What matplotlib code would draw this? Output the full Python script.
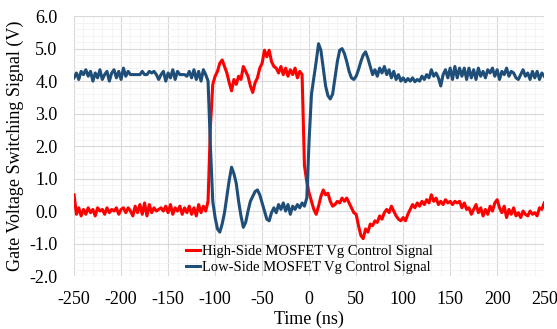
import numpy as np
import matplotlib
matplotlib.use("Agg")
import matplotlib.pyplot as plt
from matplotlib.ticker import MultipleLocator, FormatStrFormatter

plt.rcParams['font.family'] = ['Liberation Serif', 'DejaVu Serif']
plt.rcParams['axes.unicode_minus'] = False

# sample grid: -250 ns .. 250 ns, every 2.5 ns
time_ns = np.arange(-250, 250.1, 2.5)

# High-Side MOSFET gate signal (V)
high_side = [
    0.50, -0.10, 0.10, -0.15, 0.05, -0.10, 0.10, -0.05, 0.05, -0.15,
    0.10, 0.00, 0.05, -0.10, 0.10, -0.05, 0.05, 0.00, 0.10, -0.10,
    0.05, 0.10, -0.05, 0.10, 0.00, -0.15, 0.15, -0.05, 0.20, -0.10,
    0.25, -0.15, 0.20, -0.05, 0.10, 0.00, 0.05, 0.10, 0.00, 0.15,
    -0.05, 0.20, -0.10, 0.10, 0.00, 0.15, -0.10, 0.10, -0.05, 0.15,
    -0.10, 0.10, -0.15, 0.20, -0.05, 0.15, 0.00, 0.30, 2.60, 3.90,
    4.15, 4.30, 4.55, 4.65, 4.45, 4.25, 3.95, 3.70, 4.05, 3.90,
    4.15, 4.05, 4.45, 4.30, 4.15, 3.85, 3.65, 3.95, 4.10, 4.40,
    4.55, 4.95, 4.75, 4.95, 4.60, 4.45, 4.40, 4.25, 4.45, 4.20,
    4.40, 4.15, 4.35, 4.20, 4.40, 4.10, 4.30, 4.20, 1.40, 0.90,
    0.55, 0.30, 0.05, -0.10, 0.15, 0.45, 0.65, 0.50, 0.55, 0.30,
    0.15, 0.20, 0.30, 0.25, 0.40, 0.30, 0.40, 0.25, 0.10, -0.05,
    -0.10, -0.45, -0.75, -0.85, -0.55, -0.65, -0.40, -0.45, -0.30, -0.35,
    -0.15, -0.25, -0.05, 0.05, -0.05, 0.15, 0.00, -0.15, -0.25, -0.30,
    -0.20, -0.30, -0.10, 0.05, 0.20, 0.10, 0.25, 0.15, 0.30, 0.20,
    0.35, 0.25, 0.50, 0.30, 0.40, 0.20, 0.30, 0.20, 0.35, 0.25,
    0.30, 0.20, 0.30, 0.25, 0.30, 0.10, 0.25, 0.05, 0.10, -0.10,
    0.05, 0.20, -0.05, 0.10, -0.15, 0.05, -0.10, 0.15, 0.00, 0.25,
    0.35, 0.10, -0.05, 0.15, -0.20, 0.05, -0.10, 0.10, -0.15, -0.05,
    -0.20, 0.00, -0.10, -0.15, 0.00, -0.10, -0.05, -0.15, 0.10, 0.05,
    0.25,
]

# Low-Side MOSFET gate signal (V)
low_side = [
    4.10, 4.25, 4.05, 4.30, 4.20, 4.35, 4.15, 4.30, 4.00, 4.25,
    4.10, 4.35, 4.05, 4.20, 4.30, 4.00, 4.25, 4.35, 4.10, 4.30,
    4.05, 4.40, 4.15, 4.30, 4.20, 4.20, 4.20, 4.20, 4.20, 4.30,
    4.20, 4.20, 4.30, 4.25, 4.30, 4.20, 4.05, 4.20, 4.30, 4.00,
    4.25, 4.10, 4.35, 4.05, 4.30, 4.20, 4.20, 4.20, 4.15, 4.30,
    4.10, 4.35, 4.05, 4.30, 4.00, 4.35, 4.20, 4.00, 2.00, 0.30,
    -0.20, -0.55, -0.65, -0.40, -0.05, 0.45, 0.95, 1.35, 1.15, 0.85,
    0.30, -0.15, -0.50, -0.35, 0.00, 0.30, 0.45, 0.60, 0.65, 0.50,
    0.25, 0.00, -0.25, -0.30, -0.05, 0.10, -0.05, 0.20, 0.05, 0.25,
    0.00, 0.20, -0.10, 0.15, 0.05, 0.20, 0.10, 0.25, 0.15, 0.40,
    2.20, 3.60, 4.10, 4.60, 5.15, 4.95, 4.40, 3.85, 3.55, 3.45,
    3.60, 4.10, 4.60, 4.95, 5.00, 4.85, 4.60, 4.30, 4.10, 4.05,
    4.15, 4.35, 4.60, 4.80, 4.90, 4.70, 4.45, 4.20, 4.35, 4.15,
    4.40, 4.25, 4.45, 4.20, 4.35, 4.10, 4.30, 4.05, 4.20, 4.00,
    4.10, 3.98, 4.08, 4.00, 4.10, 3.98, 4.05, 4.00, 4.15, 4.05,
    4.20, 4.10, 4.35, 4.15, 4.25, 4.10, 3.85, 4.20, 4.35, 4.10,
    4.40, 4.05, 4.45, 4.10, 4.40, 4.15, 4.40, 4.05, 4.40, 4.10,
    4.35, 4.05, 4.40, 4.15, 4.30, 4.10, 4.35, 4.25, 4.40, 4.15,
    4.35, 4.05, 4.30, 4.20, 4.40, 4.15, 4.30, 4.25, 4.10, 4.05,
    4.20, 4.35, 4.15, 4.25, 4.05, 4.30, 4.10, 4.30, 4.05, 4.25,
    4.15,
]

fig = plt.figure(figsize=(5.57, 3.29), dpi=100)
ax = fig.add_axes([0.133, 0.161, 0.844, 0.790])

ax.plot(time_ns, high_side, color='#ff0000', lw=2.2,
        label='High-Side MOSFET Vg Control Signal')
ax.plot(time_ns, low_side, color='#1f4e79', lw=2.2,
        label='Low-Side MOSFET Vg Control Signal')

ax.set_xlim(-250, 250)
ax.set_ylim(-2.0, 6.0)
ax.xaxis.set_major_locator(MultipleLocator(50))
ax.xaxis.set_minor_locator(MultipleLocator(10))
ax.yaxis.set_major_locator(MultipleLocator(1.0))
ax.yaxis.set_minor_locator(MultipleLocator(0.2))
ax.yaxis.set_major_formatter(FormatStrFormatter('%.1f'))

ax.grid(which='major', color='#d9d9d9', lw=0.8)
ax.grid(which='minor', color='#f2f2f2', lw=0.6)
ax.set_axisbelow(True)
for s in ax.spines.values():
    s.set_visible(False)
ax.tick_params(which='both', length=0, labelsize=13)
ax.tick_params(axis='y', pad=12)
ax.tick_params(axis='x', pad=11)

ax.set_xlabel('Time (ns)', fontsize=13, labelpad=2)
ax.set_ylabel('Gate Voltage Switching Signal (V)', fontsize=13, labelpad=4)

ax.legend(loc='lower center', bbox_to_anchor=(0.5, -0.025), frameon=False,
          fontsize=10.5, handlelength=1.0, handletextpad=0.1,
          labelspacing=0.15, borderaxespad=0.2)

fig.savefig('out.png', dpi=100)
